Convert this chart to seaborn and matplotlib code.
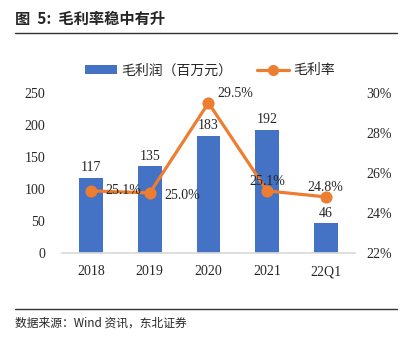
import matplotlib
matplotlib.use("Agg")
import matplotlib.pyplot as plt
import seaborn as sns
from matplotlib.lines import Line2D
from matplotlib.patches import Patch

categories = ["2018", "2019", "2020", "2021", "22Q1"]
gross_profit = [117, 135, 183, 192, 46]
gross_margin = [25.1, 25.0, 29.5, 25.1, 24.8]
left_ticks = [0, 50, 100, 150, 200, 250]
right_ticks = [22, 24, 26, 28, 30]

sns.set_theme(style="white")
plt.rcParams['font.family'] = ['Liberation Serif', 'Noto Sans CJK SC', 'DejaVu Sans']
cjk = ['Noto Sans CJK SC', 'DejaVu Sans']

blue = "#4472C4"
orange = "#ED7D31"

fig = plt.figure(figsize=(4.04, 3.39), dpi=100)
ax = fig.add_axes([0.153, 0.254, 0.726, 0.472])

sns.barplot(x=categories, y=gross_profit, ax=ax, color=blue, width=0.4,
            saturation=1, edgecolor="none")
ax.set_ylim(0, 250)
ax.set_yticks(left_ticks)
ax.set_yticklabels([str(t) for t in left_ticks], fontsize=10)
ax.set_xlim(-0.5, 4.5)
ax.tick_params(axis='x', labelsize=10, length=0, pad=9)
ax.tick_params(axis='y', length=0, pad=12)
for s in ['top', 'right', 'left']:
    ax.spines[s].set_visible(False)
ax.spines['bottom'].set_color('#d9d9d9')
ax.set_xlabel("")
ax.set_ylabel("")
for i, v in enumerate(gross_profit):
    ax.text(i, v + 6, str(v), ha='center', va='bottom', fontsize=10)

ax2 = ax.twinx()
sns.pointplot(x=categories, y=gross_margin, ax=ax2, color=orange,
              markers='o', markersize=7, linewidth=2.3)
ax2.set_ylim(22, 30)
ax2.set_yticks(right_ticks)
ax2.set_yticklabels([f"{t}%" for t in right_ticks], fontsize=10)
ax2.tick_params(axis='y', length=0, pad=8)
for s in ['top', 'right', 'left', 'bottom']:
    ax2.spines[s].set_visible(False)
ax2.set_xlim(-0.5, 4.5)
ax2.set_ylabel("")

offsets = [(0.55, 0.0), (0.55, -0.15), (0.45, 0.45), (0.0, 0.45), (0.0, 0.45)]
for i, v in enumerate(gross_margin):
    dx, dy = offsets[i]
    ax2.text(i + dx, v + dy, f"{v:.1f}%", ha='center', va='center', fontsize=10)

handles = [Patch(facecolor=blue, edgecolor='none'),
           Line2D([0], [0], color=orange, lw=2.3, marker='o', markersize=7)]
leg = fig.legend(handles, ["毛利润（百万元）", "毛利率"], loc='center',
                 bbox_to_anchor=(0.519, 0.793), ncol=2, frameon=False,
                 prop={'family': cjk, 'size': 10}, handlelength=2.3,
                 handleheight=0.6, columnspacing=1.8, handletextpad=0.3)

fig.text(0.037, 0.945, "图  5:  毛利率稳中有升", fontsize=11, fontweight='bold',
         family=cjk, va='center')
fig.add_artist(Line2D([0.037, 0.983], [0.902, 0.902], color='#333333', lw=1))
fig.add_artist(Line2D([0.037, 0.983], [0.088, 0.088], color='#333333', lw=1))
fig.text(0.037, 0.047, "数据来源：Wind 资讯，东北证券", fontsize=8.5, family=cjk,
         va='center')

fig.savefig("out.png", dpi=100)
